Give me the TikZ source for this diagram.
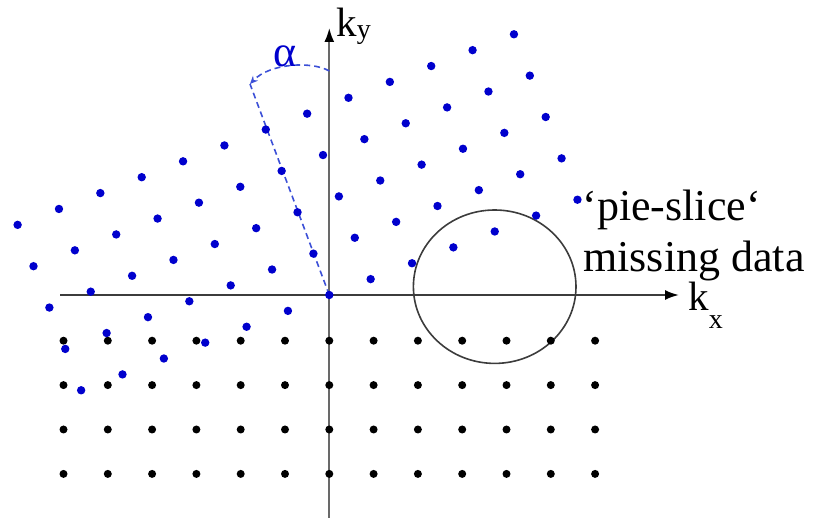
\documentclass[tikz,border=0pt]{standalone}
\usepackage{fontspec}
\setmainfont{Liberation Serif}
\usetikzlibrary{arrows.meta}
\definecolor{dotblue}{RGB}{0,0,205}
\definecolor{dashblue}{RGB}{60,80,215}
\definecolor{axgray}{RGB}{105,105,105}
\definecolor{axdark}{RGB}{60,60,60}
\begin{document}
\begin{tikzpicture}[x=0.5pt,y=-0.5pt,
  bdot/.style={fill=dotblue},
  kdot/.style={fill=black},
  axisline/.style={line width=1pt, -{Latex[length=7pt,width=5pt,color=black]}},
  dashline/.style={dashblue, line width=0.8pt, dash pattern=on 3pt off 2pt},
  lbl/.style={inner sep=0pt, font=\fontsize{22}{26}\selectfont, anchor=base west},
  klbl/.style={inner sep=0pt, font=\fontsize{20.5}{24}\selectfont, anchor=base west}]
\useasboundingbox (0,0) rectangle (815,518);
% axes
\coordinate (O) at (329.3,295);
\coordinate (xl) at (60,295);
\coordinate (xr) at (679,295);
\coordinate (yb) at (329.3,518);
\coordinate (yt) at (329.3,28);
\draw[axisline, axdark] (xl) -- (xr);
\draw[axisline, axgray] (yb) -- (yt);
% missing-data circle
\draw[axdark, line width=0.8pt] (494.7,286.7) ellipse [x radius=40.65pt, y radius=38.35pt];
% angle alpha
\coordinate (dtop) at (250,84);
\coordinate (arcstart) at (329.3,71);
\draw[dashline] (O) -- (dtop);
\draw[dashline, -{Stealth[length=4pt,width=3.5pt]}] (arcstart) .. controls (312,61) and (270,63) .. (dtop);
% regular (black) grid, lower half
\foreach \i in {-6,...,6}
  \foreach \k in {1,...,4}
    \fill[kdot] ({329.3+44.3*\i},{296.3+44.4*\k}) circle[radius=2pt];
% rotated (blue) grid, upper half
\foreach \i in {-6,...,6}
  \foreach \j in {0,...,4}
    \fill[bdot] ({329.3+41.36*\i-15.88*\j},{295-15.88*\i-41.36*\j}) circle[radius=2.1pt];
% labels
\node[lbl, text=dotblue] (alpha) at (273,66.5) {α};
\node[lbl] (pie) at (582,221) {‘pie-slice‘};
\node[lbl] (miss) at (583,271.5) {missing data};
\node[klbl] (ky) at (336,36.7) {k\raisebox{-0.7pt}{\fontsize{14}{14}\selectfont y}};
\node[klbl] (kx) at (688,310.5) {k\raisebox{-9pt}{\fontsize{14}{14}\selectfont x}};
\end{tikzpicture}
\end{document}
